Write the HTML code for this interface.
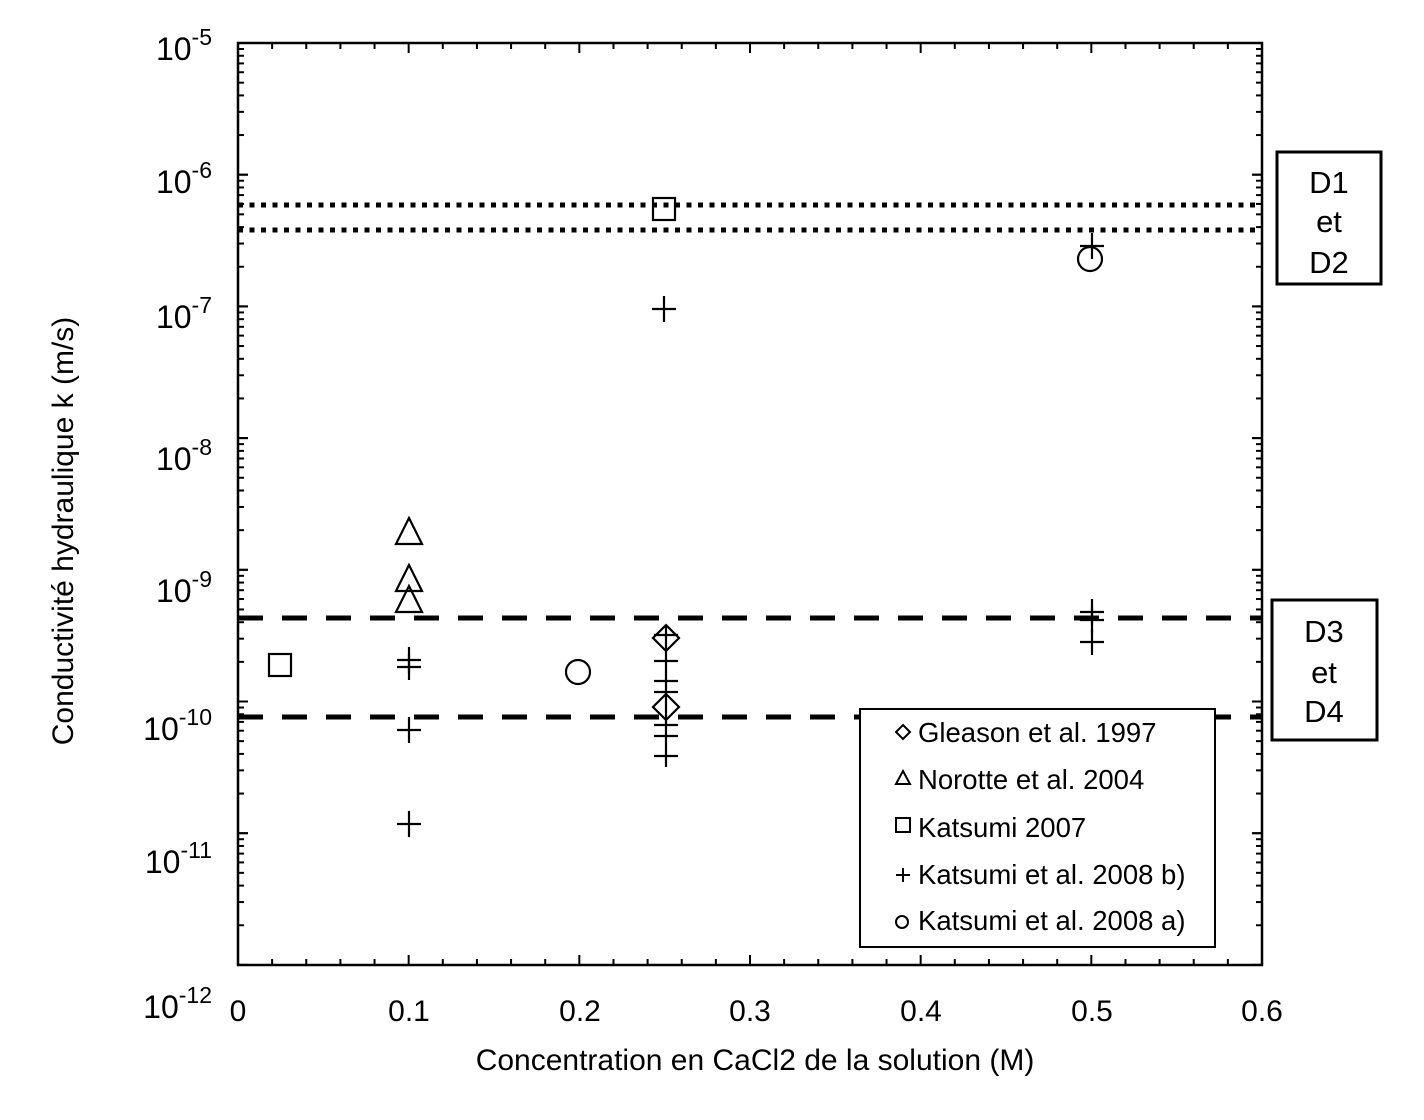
<!DOCTYPE html>
<html><head><meta charset="utf-8"><style>
html,body{margin:0;padding:0;background:#fff;}
svg{display:block;font-family:"Liberation Sans",sans-serif;}
</style></head><body>
<svg id="s" width="1424" height="1120" viewBox="0 0 1424 1120" xmlns="http://www.w3.org/2000/svg">
<rect width="1424" height="1120" fill="#fff"/>
<g id="ticks" stroke="#000" stroke-width="2"></g>
<rect x="238" y="43" width="1024" height="922" fill="none" stroke="#000" stroke-width="2.5"/>
<line x1="238" y1="205" x2="1262" y2="205" stroke="#000" stroke-width="5" stroke-dasharray="5,6.5"/>
<line x1="238" y1="230" x2="1262" y2="230" stroke="#000" stroke-width="5" stroke-dasharray="5,6.5"/>
<line x1="238" y1="618" x2="1262" y2="618" stroke="#000" stroke-width="5" stroke-dasharray="25,19"/>
<line x1="238" y1="717" x2="1262" y2="717" stroke="#000" stroke-width="5" stroke-dasharray="25,19"/>
<g id="pts" fill="none" stroke="#000" stroke-width="2.2"></g>
<rect x="860" y="709" width="355" height="238" fill="#fff" stroke="#000" stroke-width="2"/>
<g font-size="27.5" fill="#000">
<text x="918" y="742">Gleason et al. 1997</text>
<text x="918" y="789">Norotte et al. 2004</text>
<text x="918" y="837">Katsumi 2007</text>
<text x="918" y="884">Katsumi et al. 2008 b)</text>
<text x="918" y="930">Katsumi et al. 2008 a)</text>
</g>
<g fill="none" stroke="#000" stroke-width="2">
<path d="M903 725 l7 7 -7 7 -7 -7z"/>
<path d="M903 771 l7 13 h-14z"/>
<rect x="896" y="818" width="14" height="14"/>
<path d="M896 875 h14 M903 868 v14"/>
<circle cx="902" cy="922" r="6"/>
</g>
<g font-size="31" fill="#000" text-anchor="middle">
<rect x="1277" y="152" width="104" height="132" fill="none" stroke="#000" stroke-width="3"/>
<text x="1329" y="193">D1</text><text x="1329" y="232">et</text><text x="1329" y="273">D2</text>
<rect x="1272" y="600" width="105" height="140" fill="none" stroke="#000" stroke-width="3"/>
<text x="1324" y="642">D3</text><text x="1324" y="683">et</text><text x="1324" y="722">D4</text>
</g>
<g font-size="32" fill="#000" text-anchor="end" id="ylab"></g>
<g font-size="30" fill="#000" text-anchor="middle">
<text x="238" y="1021">0</text><text x="409" y="1021">0.1</text><text x="580" y="1021">0.2</text>
<text x="750" y="1021">0.3</text><text x="921" y="1021">0.4</text><text x="1092" y="1021">0.5</text><text x="1262" y="1021">0.6</text>
<text x="755" y="1070">Concentration en CaCl2 de la solution (M)</text>
<text transform="translate(73,531) rotate(-90)">Conductivité hydraulique k (m/s)</text>
</g>
</svg>
<script>
var NS="http://www.w3.org/2000/svg";
function el(p,t,a){var e=document.createElementNS(NS,t);for(var k in a)e.setAttribute(k,a[k]);p.appendChild(e);return e;}
var T=document.getElementById('ticks'),D=131.7,y0=43;
for(var d=0;d<7;d++){for(var m=1;m<=10;m++){var y=y0+(d+1)*D - Math.log10(m)*D;var L=(m==1||m==10)?10:6;
el(T,'line',{x1:238,y1:y,x2:238+L,y2:y});el(T,'line',{x1:1262,y1:y,x2:1262-L,y2:y});}}
for(var i=0;i<=30;i++){var x=238+i*1024/30;var L=(i%5==0)?10:6;el(T,'line',{x1:x,y1:965,x2:x,y2:965-L});el(T,'line',{x1:x,y1:43,x2:x,y2:43+L});}
var Y=document.getElementById('ylab');
var base={5:60,6:193,7:328,8:470,9:602,10:740,11:873,12:1018};
for(var e=5;e<=12;e++){var y=base[e];
var t=el(Y,'text',{x:212,y:y});
var a=document.createElementNS(NS,'tspan');a.textContent='10';t.appendChild(a);
var b=document.createElementNS(NS,'tspan');b.setAttribute('font-size','23');b.setAttribute('dy','-15');b.textContent='-'+e;t.appendChild(b);}
var P=document.getElementById('pts');
function plus(x,y){el(P,'path',{d:'M'+(x-12)+' '+y+'h24M'+x+' '+(y-13)+'v26'});}
function sq(x,y){el(P,'rect',{x:x-11,y:y-11,width:22,height:22});}
function tri(x,y){el(P,'path',{d:'M'+x+' '+(y-13)+'l13 26h-26z'});}
function dia(x,y){el(P,'path',{d:'M'+x+' '+(y-13)+'l13 13 -13 13 -13 -13z'});}
function cir(x,y){el(P,'circle',{cx:x,cy:y,r:12});}
sq(280,665);sq(664,209);
tri(409,531);tri(409,578);tri(409,599);
plus(409,660);plus(409,667);plus(409,730);plus(409,824);
cir(578,672);cir(1090,259);
dia(666,638);dia(666,707);
el(P,'path',{d:'M666 625V767'});
[635,661,681,692,725,736,756].forEach(function(y){el(P,'path',{d:'M654 '+y+'h24'});});
plus(664,309);
plus(1092,246);plus(1092,612);plus(1092,620);plus(1092,642);
</script>
</body></html>
